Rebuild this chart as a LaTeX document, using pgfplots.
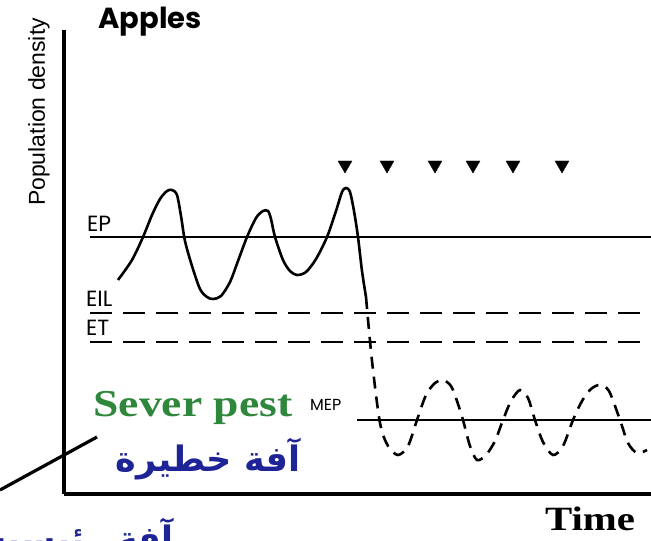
\documentclass[border=0pt]{standalone}
\usepackage{fontspec}
\usepackage{pgfplots}
\pgfplotsset{compat=1.18}
\setmainfont{Liberation Serif}
\newfontfamily\lsans{Liberation Sans}
\newfontfamily\pop{Poppins}
\newfontfamily\arabicfont[Script=Arabic]{DejaVu Sans}
\TeXXeTstate=1
\definecolor{pestgreen}{RGB}{46,135,58}
\definecolor{pestblue}{RGB}{30,36,150}
\begin{document}
\begin{tikzpicture}
\begin{axis}[
  scale only axis, width=587pt, height=464pt,
  xmin=64, xmax=651, ymin=47, ymax=511,
  axis lines=left, axis line style={line width=3.5pt,-},
  xtick=\empty, ytick=\empty, clip=false,
]
% threshold lines
\addplot[black, line width=2.4pt] coordinates {(90,304) (651,304)};
\addplot[black, line width=2.4pt, dash pattern=on 22pt off 11pt] coordinates {(90,228) (651,228)};
\addplot[black, line width=2.4pt, dash pattern=on 22pt off 11pt] coordinates {(90,199) (651,199)};
\addplot[black, line width=2.4pt] coordinates {(357,121) (651,121)};
% population, untreated (solid)
\addplot[black, line width=2.6pt, smooth, tension=0.5] coordinates {
 (118,261) (132,281) (143,304) (152,326) (160,342) (167,350) (172,351) (177,346)
 (181,325) (185,300) (192,275) (200,252) (207,244) (213,242) (221,245) (230,259)
 (238,280) (247,304) (256,323) (263,330) (268,330) (271,322) (275,304) (283,281)
 (290,270) (297,266) (306,269) (316,282) (327,304) (336,330) (342,349) (346,353)
 (350,349) (354,330) (358,304) (362,270) (366,244)};
% population, treated (dashed)
\addplot[black, line width=2.6pt, smooth, tension=0.5, dash pattern=on 12pt off 8pt] coordinates {
 (366,244) (372,180) (380,118) (388,95) (398,86) (408,95) (417,121) (426,146)
 (435,158) (443,161) (451,155) (457,140) (463,121) (470,95) (477,81) (486,86)
 (495,100) (503,121) (511,140) (520,151) (528,143) (535,121) (543,99) (553,86)
 (563,95) (573,121) (582,140) (591,152) (600,156) (609,150) (620,121) (628,98)
 (637,88) (647,91)};
% treatments
\addplot[only marks, mark=triangle*, mark size=8pt, mark options={rotate=180, fill=black}] coordinates {
 (345,376) (387,376) (435,376) (473,376) (513,376) (562,376)};
% pointer line
\addplot[black, line width=3.2pt] coordinates {(0,51) (97,104)};
% labels
\node[font=\pop\bfseries\fontsize{29}{29}\selectfont] at (axis cs:150,519) {Apples};
\node[font=\lsans\fontsize{23}{23}\selectfont, rotate=90] at (axis cs:39,429) {Population density};
\node[font=\bfseries\fontsize{34}{34}\selectfont, xscale=1.2, transform shape] at (axis cs:590,22) {Time};
\node[font=\pop\fontsize{22}{22}\selectfont, anchor=west, inner sep=0pt] at (axis cs:87,317) {EP};
\node[font=\pop\fontsize{22}{22}\selectfont, anchor=west, inner sep=0pt] at (axis cs:86,242) {EIL};
\node[font=\pop\fontsize{22}{22}\selectfont, anchor=west, inner sep=0pt] at (axis cs:86,213) {ET};
\node[font=\pop\fontsize{16}{16}\selectfont, anchor=west, inner sep=0pt] at (axis cs:310,136) {MEP};
\node[font=\bfseries\fontsize{38}{38}\selectfont, text=pestgreen, xscale=1.2, transform shape] at (axis cs:193,133) {Sever pest};
\node[font=\arabicfont\bfseries\fontsize{35}{35}\selectfont, text=pestblue] at (axis cs:208,82) {\beginR آفة خطيرة\endR};
\node[font=\arabicfont\bfseries\fontsize{35}{35}\selectfont, text=pestblue] at (axis cs:80,2) {\beginR آفة رئيسية\endR};
\coordinate (BL) at (axis cs:0,0);
\coordinate (TR) at (axis cs:651,541);
\end{axis}
\pgfresetboundingbox
\path[use as bounding box] (BL) rectangle (TR);
\end{tikzpicture}
\end{document}
